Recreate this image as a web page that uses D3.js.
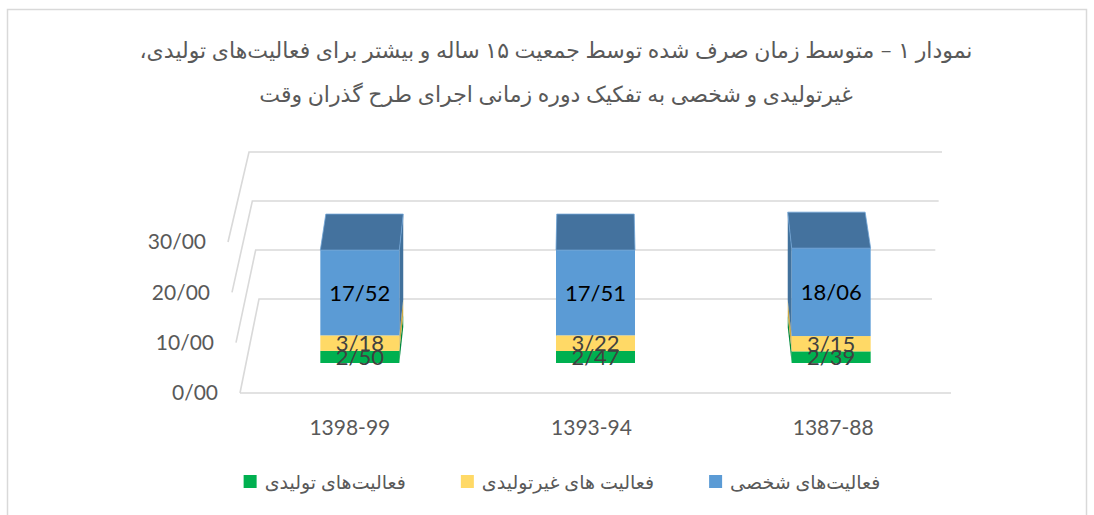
<!DOCTYPE html>
<html>
<head>
<meta charset="utf-8">
<script src="https://cdn.jsdelivr.net/npm/d3@7"></script>
<style>
  body { margin: 0; background: #fff; }
  text { font-family: Lato, "DejaVu Sans", sans-serif; }
</style>
</head>
<body>
<div id="chart"></div>
<script>
// data
const categories = ['1398-99', '1393-94', '1387-88'];
const productive = [2.50, 2.47, 2.39];
const nonProductive = [3.18, 3.22, 3.15];
const personal = [17.52, 17.51, 18.06];
const seriesNames = ['فعالیت‌های تولیدی', 'فعالیت های غیرتولیدی', 'فعالیت‌های شخصی'];
const yTicks = [0, 10, 20, 30];
const titleLines = [
    'نمودار ۱ – متوسط زمان صرف شده توسط جمعیت ۱۵ ساله و بیشتر برای فعالیت‌های تولیدی،',
    'غیرتولیدی و شخصی به تفکیک دوره زمانی اجرای طرح گذران وقت'
];

const width = 1094, height = 515;
const colors = ['#00B050', '#FFD966', '#5B9BD5'];
const sideColors = ['#008A3E', '#C9A845', '#41719C'];
const topColor = '#44729E';
const gridColor = '#D9D9D9';
const textColor = '#595959';

const fmt = v => d3.format('.2f')(v).replace('.', '/');

const svg = d3.select('#chart').append('svg').attr('width', width).attr('height', height);

// chart border
svg.append('rect')
    .attr('x', 7.5).attr('y', 9.5)
    .attr('width', 1079).attr('height', 520)
    .attr('fill', 'none').attr('stroke', gridColor).attr('stroke-width', 1.5);

// title
svg.append('g').selectAll('text')
    .data(titleLines)
    .enter()
    .append('text')
    .attr('x', 556)
    .attr('y', (d, i) => 58 + i * 44)
    .attr('direction', 'rtl')
    .attr('text-anchor', 'middle')
    .attr('fill', textColor)
    .style('font-size', '22px')
    .text(d => d);

// 3d-ish frame: front plane, back wall, side wall
const yFront = d3.scaleLinear().domain([0, 30]).range([393, 242]);
const xFront = d3.scaleLinear().domain([0, 30]).range([240, 228]);
const yBack = d3.scaleLinear().domain([0, 30]).range([299, 152]);
const xBackL = d3.scaleLinear().domain([0, 30]).range([259, 249]);
const xBackR = d3.scaleLinear().domain([0, 30]).range([932, 942]);
const floorRight = 951;

const line = d3.line();

svg.append('g').selectAll('path')
    .data(yTicks)
    .enter()
    .append('path')
    .attr('d', v => line([[xFront(v), yFront(v)], [xBackL(v), yBack(v)], [xBackR(v), yBack(v)]]))
    .attr('fill', 'none')
    .attr('stroke', gridColor)
    .attr('stroke-width', 1.6);

svg.append('path')
    .attr('d', line([[xFront(0), yFront(0)], [floorRight, yFront(0)]]))
    .attr('stroke', gridColor)
    .attr('stroke-width', 1.6);

// y tick labels
svg.append('g').selectAll('text')
    .data(yTicks)
    .enter()
    .append('text')
    .attr('x', v => xFront(v) - 22)
    .attr('y', v => yFront(v))
    .attr('dy', '0.35em')
    .attr('text-anchor', 'end')
    .attr('fill', textColor)
    .style('font-size', '21px')
    .text(v => fmt(v));

// bars
const x = d3.scalePoint().domain(categories).range([242, 949]).padding(0.5);
const xLabel = d3.scalePoint().domain(categories).range([229, 954]).padding(0.5);
const yBar = d3.scaleLinear().domain([0, 30]).range([363, 217]);
const barW = 79;
const depth = 36;
const vp = 595;
const back = px => vp + (px - vp) * 0.98;

const table = categories.map((c, i) => ({ cat: c, s0: productive[i], s1: nonProductive[i], s2: personal[i] }));
const stacked = d3.stack().keys(['s0', 's1', 's2'])(table);

const bars = svg.append('g');

stacked.forEach((layer, k) => {
    const g = bars.append('g');
    // side face
    g.selectAll('path.side')
        .data(layer)
        .enter()
        .append('path')
        .attr('class', 'side')
        .attr('d', d => {
            const cx = x(d.data.cat);
            const ex = cx < vp ? cx + barW / 2 : cx - barW / 2;
            const y0 = yBar(d[0]), y1 = yBar(d[1]);
            return line([[ex, y0], [ex, y1], [back(ex), y1 - depth], [back(ex), y0 - depth]]) + 'Z';
        })
        .attr('fill', sideColors[k]);
    // front face
    g.selectAll('rect')
        .data(layer)
        .enter()
        .append('rect')
        .attr('x', d => x(d.data.cat) - barW / 2)
        .attr('y', d => yBar(d[1]))
        .attr('width', barW)
        .attr('height', d => yBar(d[0]) - yBar(d[1]))
        .attr('fill', colors[k]);
});

// top face of each column
const topLayer = stacked[stacked.length - 1];
bars.append('g').selectAll('path')
    .data(topLayer)
    .enter()
    .append('path')
    .attr('d', d => {
        const xl = x(d.data.cat) - barW / 2, xr = x(d.data.cat) + barW / 2;
        const yt = yBar(d[1]);
        return line([[xl, yt], [xr, yt], [back(xr), yt - depth], [back(xl), yt - depth]]) + 'Z';
    })
    .attr('fill', topColor)
    .attr('stroke', '#6FA3D6')
    .attr('stroke-width', 0.8);

// data labels
stacked.forEach((layer, k) => {
    bars.append('g').selectAll('text')
        .data(layer)
        .enter()
        .append('text')
        .attr('x', d => x(d.data.cat))
        .attr('y', d => (yBar(d[0]) + yBar(d[1])) / 2)
        .attr('dy', '0.36em')
        .attr('text-anchor', 'middle')
        .attr('fill', k === 2 ? '#000' : '#404040')
        .style('font-size', '22px')
        .text(d => fmt(d[1] - d[0]));
});

// category labels
svg.append('g').selectAll('text')
    .data(categories)
    .enter()
    .append('text')
    .attr('x', c => xLabel(c))
    .attr('y', 428)
    .attr('dy', '0.35em')
    .attr('text-anchor', 'middle')
    .attr('fill', textColor)
    .style('font-size', '21px')
    .text(c => c);

// legend
const legend = svg.append('g');
const items = legend.selectAll('g')
    .data(seriesNames)
    .enter()
    .append('g');
items.append('rect')
    .attr('width', 13).attr('height', 13)
    .attr('y', 475)
    .attr('fill', (d, i) => colors[i]);
items.append('text')
    .attr('y', 482)
    .attr('dy', '0.35em')
    .attr('fill', textColor)
    .style('font-size', '19px')
    .text(d => d);

const widths = [];
items.select('text').each(function () { widths.push(this.getComputedTextLength()); });
const itemW = widths.map(w => 13 + 8 + w);
const gap = 55;
const total = d3.sum(itemW) + gap * (itemW.length - 1);
let lx = 562 - total / 2;
items.each(function (d, i) {
    const g = d3.select(this);
    g.select('rect').attr('x', lx);
    g.select('text').attr('x', lx + 21);
    lx += itemW[i] + gap;
});
</script>
</body>
</html>
